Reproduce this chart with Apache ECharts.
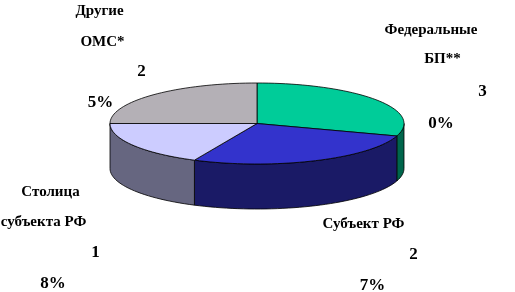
<!DOCTYPE html>
<html>
<head>
<meta charset="utf-8">
<script src="https://cdn.jsdelivr.net/npm/echarts@6/dist/echarts.min.js"></script>
<style>
html,body{margin:0;padding:0;background:#fff;}
#chart{width:515px;height:292px;}
</style>
</head>
<body>
<div id="chart"></div>
<script>
// ---- data ----
const categories = ['Федеральные\nБП**', 'Субъект РФ', 'Столица\nсубъекта РФ', 'Другие\nОМС*'];
const values = [30, 27, 18, 25];

// ---- styles ----
const topColors = ['#00CC99', '#3333CC', '#CCCCFF', '#B4B0B6'];
const sideColors = ['#00664C', '#1A1A66', '#666680', '#5A585B'];

// ---- layout (geometry of the 3D pie) ----
const CX = 257, CY = 123.5, RX = 147, RY = 40.5, DEPTH = 45;

// label line anchors (center x, middle y) per category: name lines..., first pct char, rest of pct
const labelAnchors = [
  [[431, 30], [442.5, 59], [482.5, 92], [441, 124]],
  [[363.5, 224], [413.5, 255], [372.5, 286]],
  [[50.5, 192], [43.5, 222], [95.5, 253], [53, 284]],
  [[99.5, 11], [102.5, 42], [141.5, 72], [100.5, 103]]
];

const total = values.reduce((a, b) => a + b, 0);

function pt(a, dy) {
  return [CX + RX * Math.sin(a), CY - RY * Math.cos(a) + (dy || 0)];
}
function arc(a0, a1, dy) {
  const n = Math.max(2, Math.ceil((a1 - a0) / (2 * Math.PI) * 160));
  const out = [];
  for (let k = 0; k <= n; k++) out.push(pt(a0 + (a1 - a0) * k / n, dy));
  return out;
}

function renderItem(params, api) {
  const i = params.dataIndex;
  let start = 0;
  for (let j = 0; j < i; j++) start += values[j];
  const v = api.value(0);
  const a0 = start / total * 2 * Math.PI;
  const a1 = (start + v) / total * 2 * Math.PI;
  const children = [];
  const lo = Math.max(a0, Math.PI / 2), hi = Math.min(a1, 3 * Math.PI / 2);
  if (lo < hi) {
    const pts = arc(lo, hi, 0).concat(arc(lo, hi, DEPTH).reverse());
    children.push({
      type: 'polygon',
      shape: { points: pts },
      style: { fill: sideColors[i], stroke: '#000', lineWidth: 0.8 }
    });
  }
  children.push({
    type: 'polygon',
    shape: { points: [[CX, CY]].concat(arc(a0, a1, 0)) },
    style: { fill: topColors[i], stroke: '#000', lineWidth: 0.8 }
  });
  return { type: 'group', children: children };
}

// labels built from data
const graphics = [];
categories.forEach((name, i) => {
  const pct = values[i] + '%';
  const lines = name.split('\n');
  const texts = lines.map(t => ({ t: t, num: false }))
    .concat([{ t: pct.slice(0, 1), num: true }, { t: pct.slice(1), num: true }]);
  texts.forEach((o, k) => {
    const a = labelAnchors[i][k];
    graphics.push({
      type: 'text',
      x: a[0], y: a[1],
      style: {
        text: o.t,
        font: o.num ? 'bold 17px "Liberation Serif"' : 'bold 15px "Liberation Serif"',
        fill: '#000',
        align: 'center',
        verticalAlign: 'middle'
      }
    });
  });
});

const chart = echarts.init(document.getElementById('chart'), null, { renderer: 'canvas' });
chart.setOption({
  backgroundColor: '#fff',
  animation: false,
  series: [{
    type: 'custom',
    coordinateSystem: 'none',
    renderItem: renderItem,
    data: values.map((v, i) => ({ name: categories[i], value: [v] }))
  }],
  graphic: graphics
});
</script>
</body>
</html>
